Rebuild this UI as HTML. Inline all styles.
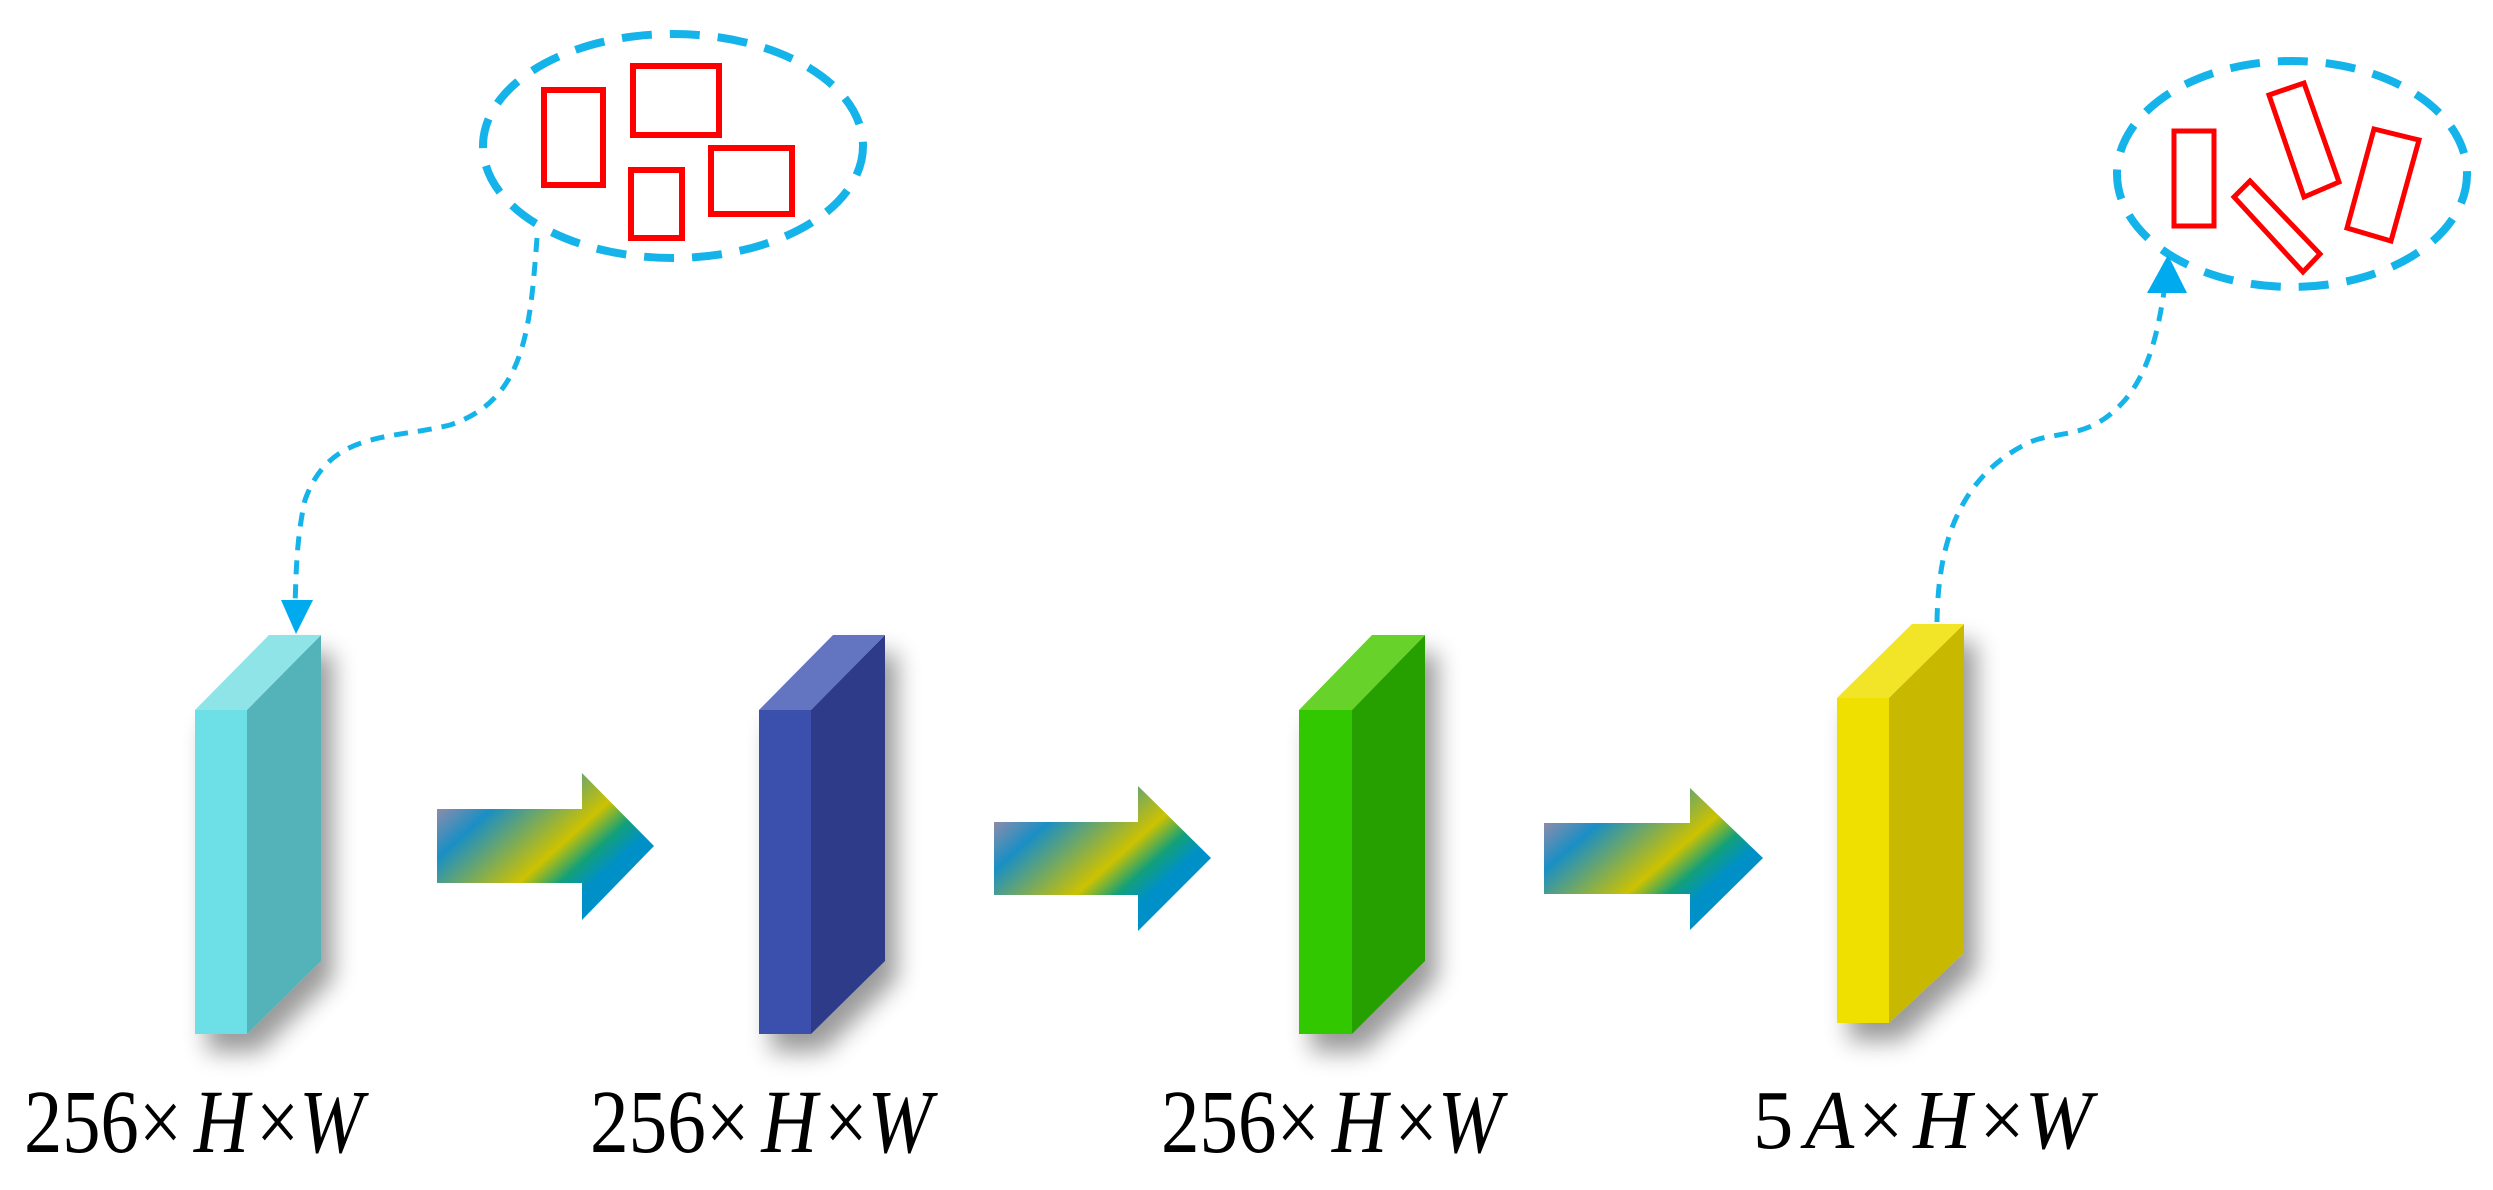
<!DOCTYPE html>
<html><head><meta charset="utf-8"><style>html,body{margin:0;padding:0;background:#fff}svg{display:block}</style></head>
<body>
<svg width="2493" height="1190" viewBox="0 0 2493 1190" xmlns="http://www.w3.org/2000/svg">
<defs>
<filter id="sh" x="-50%" y="-50%" width="200%" height="200%">
<feGaussianBlur in="SourceAlpha" stdDeviation="12"/>
<feOffset dx="12" dy="18" result="b"/>
<feComponentTransfer><feFuncA type="linear" slope="0.4"/></feComponentTransfer>
<feMerge><feMergeNode/><feMergeNode in="SourceGraphic"/></feMerge>
</filter>
<linearGradient id="ag" x1="0" y1="0" x2="1" y2="0.75">
<stop offset="0" stop-color="#e08a98"/>
<stop offset="0.28" stop-color="#1a8fc4"/>
<stop offset="0.6" stop-color="#cdc200"/>
<stop offset="0.72" stop-color="#12a07a"/>
<stop offset="0.82" stop-color="#0090c8"/>
<stop offset="1" stop-color="#0090c8"/>
</linearGradient>
</defs>

<g filter="url(#sh)">
<polygon points="195,710 247,710 247,1034 195,1034" fill="#6ddfe6"/>
<polygon points="247,710 321,635 321,961 247,1034" fill="#52b3b9"/>
<polygon points="195,710 269,635 321,635 247,710" fill="#8fe4e8"/>
</g>
<g filter="url(#sh)">
<polygon points="759,710 811,710 811,1034 759,1034" fill="#3b4fad"/>
<polygon points="811,710 885,635 885,961 811,1034" fill="#2e3a88"/>
<polygon points="759,710 833,635 885,635 811,710" fill="#6474c0"/>
</g>
<g filter="url(#sh)">
<polygon points="1299,710 1352,710 1352,1034 1299,1034" fill="#33c800"/>
<polygon points="1352,710 1425,635 1425,961 1352,1034" fill="#28a000"/>
<polygon points="1299,710 1372,635 1425,635 1352,710" fill="#66d22a"/>
</g>
<g filter="url(#sh)">
<polygon points="1837,698 1889,698 1889,1023 1837,1023" fill="#f0e000"/>
<polygon points="1889,698 1964,624 1964,953 1889,1023" fill="#c8b800"/>
<polygon points="1837,698 1912,624 1964,624 1889,698" fill="#f2e425"/>
</g>

<polygon points="437,809 582,809 582,773 654,846 582,920 582,883 437,883" fill="url(#ag)"/>
<polygon points="994,822 1138,822 1138,786 1211,858 1138,931 1138,895 994,895" fill="url(#ag)"/>
<polygon points="1544,823 1690,823 1690,788 1763,858 1690,930 1690,894 1544,894" fill="url(#ag)"/>

<ellipse cx="673" cy="146" rx="190" ry="112" fill="none" stroke="#14b4ea" stroke-width="8" stroke-dasharray="30 18"/>
<g fill="none" stroke="#ff0000" stroke-width="6">
<rect x="544" y="90" width="59" height="95"/>
<rect x="633" y="66" width="86" height="69"/>
<rect x="631" y="170" width="51" height="68"/>
<rect x="711" y="148" width="81" height="66"/>
</g>
<path d="M537,238 C530,330 525,400 450,425 C390,440 330,430 305,500 C296,540 296,580 295,605" fill="none" stroke="#14b4ea" stroke-width="5" stroke-dasharray="14 10"/>
<polygon points="281,600 313,600 296,634" fill="#00aaee"/>

<ellipse cx="2292" cy="174" rx="175" ry="113" fill="none" stroke="#14b4ea" stroke-width="8" stroke-dasharray="30 18"/>
<g fill="none" stroke="#ff0000" stroke-width="5">
<rect x="2174" y="131" width="40" height="95"/>
<polygon points="2234,197 2250,181 2320,254 2303,272"/>
<polygon points="2269,95 2304,83 2339,182 2304,197"/>
<polygon points="2374,129 2419,140 2391,241 2347,228"/>
</g>
<path d="M1937,622 C1938,560 1950,480 2030,442 C2060,430 2090,440 2125,400 C2150,370 2158,330 2164,292" fill="none" stroke="#14b4ea" stroke-width="5" stroke-dasharray="14 10"/>
<polygon points="2147,293 2187,293 2168,255" fill="#00aaee"/>

<g font-family="Liberation Serif, serif" font-size="90" fill="#000">
<text x="24" y="1152" textLength="339" lengthAdjust="spacingAndGlyphs">256×<tspan dx="14" font-style="italic">H</tspan><tspan dx="8">×</tspan><tspan font-style="italic">W</tspan></text>
<text x="590" y="1152" textLength="342" lengthAdjust="spacingAndGlyphs">256×<tspan dx="14" font-style="italic">H</tspan><tspan dx="8">×</tspan><tspan font-style="italic">W</tspan></text>
<text x="1161" y="1152" textLength="341" lengthAdjust="spacingAndGlyphs">256×<tspan dx="14" font-style="italic">H</tspan><tspan dx="8">×</tspan><tspan font-style="italic">W</tspan></text>
<text x="1753" y="1148" font-size="84" textLength="339" lengthAdjust="spacingAndGlyphs">5<tspan dx="12" font-style="italic">A</tspan><tspan dx="4">×</tspan><tspan dx="10" font-style="italic">H</tspan><tspan dx="8">×</tspan><tspan font-style="italic">W</tspan></text>
</g>
</svg>
</body></html>
